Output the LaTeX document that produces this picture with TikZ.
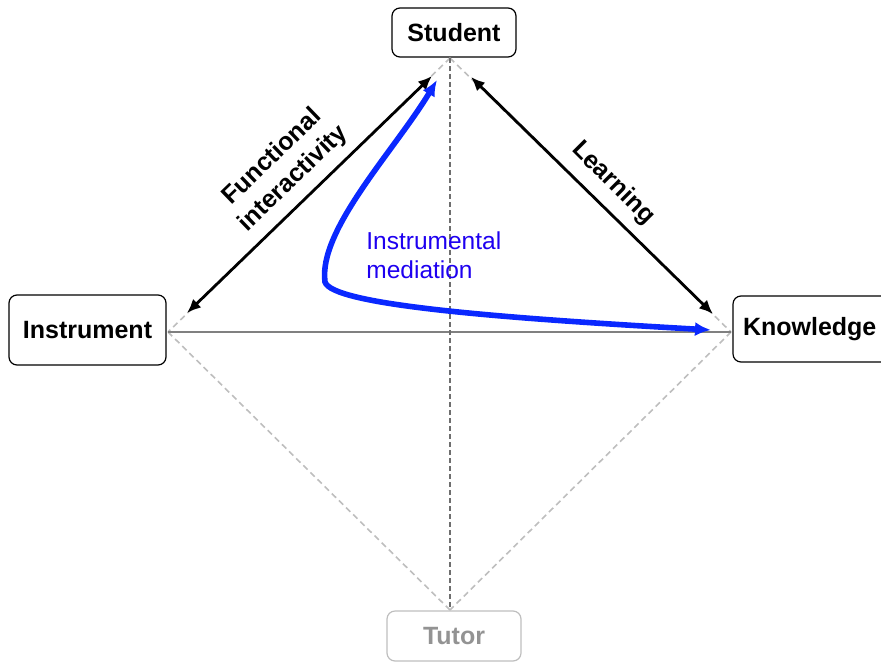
\documentclass[tikz,border=0pt]{standalone}
\usepackage{fontspec}
\setmainfont{Liberation Sans}
\usetikzlibrary{arrows.meta}
\definecolor{mblue}{RGB}{10,40,255}
\definecolor{tblue}{RGB}{30,0,240}
\definecolor{lgray}{RGB}{190,190,190}
\definecolor{dgray}{RGB}{110,110,110}
\tikzset{
  box/.style={draw=black, line width=0.6pt, rounded corners=4pt, inner sep=0pt,
    font=\fontsize{12.5}{15}\selectfont\bfseries},
  lbl/.style={font=\fontsize{12.5}{15}\selectfont\bfseries, align=center, inner sep=0pt},
  dline/.style={draw=lgray, line width=0.8pt, dash pattern=on 3pt off 2pt},
  vline/.style={draw=dgray, line width=0.8pt, dash pattern=on 2.5pt off 1.5pt},
  harrow/.style={line width=1.4pt, {Latex[length=7pt,width=6pt]}-{Latex[length=7pt,width=6pt]}},
  barrow/.style={draw=mblue, line width=2.8pt, {Latex[length=8pt,width=7pt]}-{Latex[length=8pt,width=7pt]}}
}
\begin{document}
\begin{tikzpicture}[x=0.5pt,y=-0.5pt]
\useasboundingbox (0,0) rectangle (881,663);
% boxes
\node[box, minimum width=62pt, minimum height=24.5pt] (student) at (454,32.5) {Student};
\node[box, minimum width=78.5pt, minimum height=35pt] (instrument) at (87.5,330) {Instrument};
\node[box, minimum width=80pt, minimum height=33pt, text width=70pt, align=left] (knowledge) at (813,329) {Knowledge};
\node[box, draw=lgray, text=gray!85, minimum width=67pt, minimum height=25pt] (tutor) at (454,636) {Tutor};
% vertices
\coordinate (S) at (450,58);
\coordinate (I) at (168,332);
\coordinate (K) at (731,332);
\coordinate (T) at (450,610);
% lines
\draw[dline] (S) -- (I);
\draw[dline] (S) -- (K);
\draw[dline] (I) -- (T);
\draw[dline] (K) -- (T);
\draw[draw=gray, line width=0.9pt] (I) -- (K);
\draw[vline] (S) -- (T);
% arrows
\coordinate (a1) at (187,313);
\coordinate (a2) at (432,76);
\coordinate (b1) at (471,77);
\coordinate (b2) at (713,314);
\draw[harrow] (a1) -- (a2);
\draw[harrow] (b1) -- (b2);
\coordinate (c1) at (437,80);
\coordinate (c2) at (711,330);
\draw[barrow] (c1) .. controls (395,150) and (318,230) .. (325,282)
  .. controls (332,305) and (500,318) .. (c2);
% labels
\node[lbl, rotate=44] (fi) at (283,168) {Functional\\interactivity};
\node[lbl, rotate=-45] (learn) at (613,183) {Learning};
\node[font=\fontsize{12.25}{14.5}\selectfont, text=tblue, align=left, inner sep=0pt, anchor=west] (im) at (366,255) {Instrumental\\mediation};
\end{tikzpicture}
\end{document}
